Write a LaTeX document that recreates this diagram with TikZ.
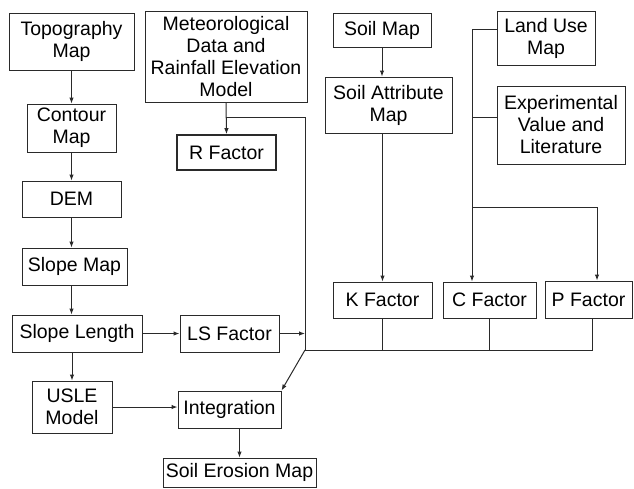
\documentclass[tikz,border=0pt]{standalone}
\usepackage{fontspec}
\setmainfont{Liberation Sans}
\usetikzlibrary{arrows.meta,calc}
\definecolor{ln}{HTML}{2A2A2A}
\begin{document}
\begin{tikzpicture}[x=1pt,y=-1pt,
  box/.style={draw=ln,line width=1pt,inner sep=1pt,align=center,font=\fontsize{19.5}{22}\selectfont,text=black},
  con/.style={draw=ln,line width=1pt},
  arr/.style={con,-{Latex[length=6pt,width=4.5pt]}}]
\useasboundingbox (0,0) rectangle (634,488);
\node[box,minimum width=125,minimum height=57] (topo) at (71.5,41.5) {Topography\\Map};
\node[box,minimum width=89,minimum height=48] (contour) at (71.5,128) {Contour\\Map};
\node[box,minimum width=162,minimum height=91] (met) at (226,56.5) {Meteorological\\Data and\\Rainfall Elevation\\Model};
\node[box,line width=1.7pt,minimum width=99,minimum height=35] (r) at (226.5,152.5) {R Factor};
\node[box,minimum width=98,minimum height=34] (soil) at (382,30) {Soil Map};
\node[box,minimum width=127,minimum height=56] (attr) at (388.5,105) {Soil Attribute\\Map};
\node[box,minimum width=98,minimum height=54] (land) at (546,38) {Land Use\\Map};
\node[box,minimum width=128,minimum height=78] (exp) at (561,125) {Experimental\\Value and\\Literature};
\node[box,minimum width=99,minimum height=36] (dem) at (71.5,199) {DEM};
\node[box,minimum width=105,minimum height=37] (slope) at (74.5,266.5) {Slope Map};
\node[box,minimum width=130,minimum height=37] (sl) at (77,333.5) {Slope Length};
\node[box,minimum width=99,minimum height=37] (ls) at (229.5,333.5) {LS Factor};
\node[box,minimum width=99,minimum height=36] (k) at (382.5,300) {K Factor};
\node[box,minimum width=93,minimum height=36] (c) at (489.5,300) {C Factor};
\node[box,minimum width=87,minimum height=37] (p) at (588.5,299.5) {P Factor};
\node[box,minimum width=80,minimum height=52] (usle) at (72,407) {USLE\\Model};
\node[box,minimum width=103,minimum height=37] (integ) at (229.5,409.5) {Integration};
\node[box,minimum width=153,minimum height=29] (sem) at (239.5,472.5) {Soil Erosion Map};
% left column
\draw[arr] (topo.south) -- (contour.north);
\draw[arr] (contour.south) -- (contour.south |- dem.north);
\draw[arr] (dem.south) -- (dem.south |- slope.north);
\draw[arr] (dem.south |- slope.south) -- (dem.south |- sl.north);
\draw[arr] (sl.east) -- (ls.west);
\draw[arr] (usle.north |- sl.south) -- (usle.north);
\draw[arr] (usle.east) -- (usle.east -| integ.west);
\draw[arr] (sem.north |- integ.south) -- (sem.north);
% meteorological
\coordinate (mj) at (226,117);
\coordinate (bus) at (305,350);
\coordinate (pb) at (592,350);
\draw[arr] (met.south) -- (r.north);
\draw[con] (mj) -| (bus);
\draw[arr] (ls.east) -- (ls.east -| bus);
\draw[con] (bus) -- (pb) -- (pb |- p.south);
\draw[con] (k.south) -- (k.south |- bus);
\draw[con] (c.south) -- (c.south |- bus);
\draw[arr] (bus) -- (integ.north east);
% soil
\draw[arr] (soil.south) -- (soil.south |- attr.north);
\draw[arr] (k.north |- attr.south) -- (k.north);
% land use
\coordinate (lt) at (472,29);
\coordinate (le) at (472,117);
\coordinate (lb) at (472,207);
\coordinate (pa) at (597,207);
\draw[arr] (lt -| land.west) -- (lt) -- (lt |- c.north);
\draw[con] (le) -- (le -| exp.west);
\draw[arr] (lb) -- (pa) -- (pa |- p.north);
\end{tikzpicture}
\end{document}
